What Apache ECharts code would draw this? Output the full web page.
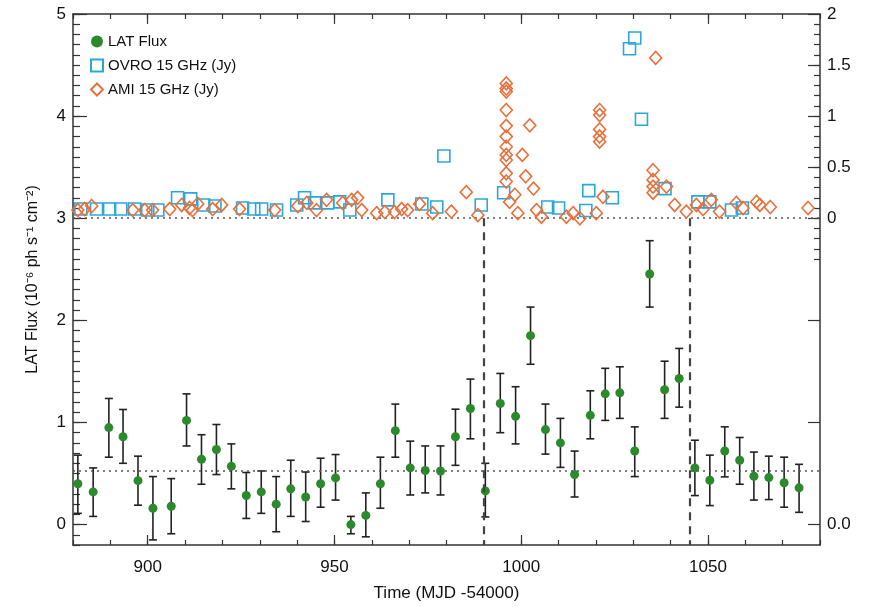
<!DOCTYPE html>
<html>
<head>
<meta charset="utf-8">
<script src="https://cdn.jsdelivr.net/npm/echarts@6/dist/echarts.min.js"></script>
<style>
  html, body { margin: 0; background: #fff; }
  #chart { width: 875px; height: 607px; }
</style>
</head>
<body>
<div id="chart"></div>
<script>
// LAT flux, 10^-6 ph s^-1 cm^-2, with error bar ends
const latTime = [881.3, 885.4, 889.6, 893.4, 897.4, 901.4, 906.3, 910.4, 914.4, 918.4,
  922.4, 926.4, 930.4, 934.4, 938.3, 942.3, 946.3, 950.3, 954.4, 958.4,
  962.3, 966.3, 970.3, 974.3, 978.4, 982.4, 986.4, 990.4, 994.4, 998.5,
  1002.5, 1006.5, 1010.5, 1014.3, 1018.5, 1022.5, 1026.4, 1030.4, 1034.4, 1038.4,
  1042.3, 1046.5, 1050.5, 1054.5, 1058.5, 1062.3, 1066.3, 1070.4, 1074.4]
const latFlux = [0.40, 0.32, 0.95, 0.86, 0.43, 0.16, 0.18, 1.02, 0.64, 0.735,
  0.57, 0.285, 0.32, 0.20, 0.35, 0.27, 0.40, 0.457, 0.0, 0.09,
  0.40, 0.92, 0.555, 0.53, 0.525, 0.86, 1.137, 0.33, 1.186, 1.06,
  1.85, 0.93, 0.80, 0.49, 1.07, 1.28, 1.29, 0.72, 2.454, 1.32,
  1.43, 0.555, 0.434, 0.72, 0.63, 0.473, 0.46, 0.41, 0.36]
const latLow = [0.11, 0.08, 0.66, 0.60, 0.19, -0.15, -0.09, 0.77, 0.395, 0.49,
  0.35, 0.06, 0.11, -0.07, 0.08, 0.03, 0.17, 0.24, -0.09, -0.12,
  0.16, 0.66, 0.29, 0.31, 0.29, 0.58, 0.84, 0.075, 0.90, 0.79,
  1.57, 0.69, 0.56, 0.27, 0.84, 1.02, 1.04, 0.47, 2.13, 1.04,
  1.15, 0.284, 0.186, 0.467, 0.395, 0.24, 0.245, 0.17, 0.12]
const latHigh = [0.68, 0.555, 1.235, 1.127, 0.67, 0.47, 0.45, 1.28, 0.88, 0.98,
  0.79, 0.51, 0.525, 0.47, 0.63, 0.515, 0.65, 0.686, 0.08, 0.31,
  0.66, 1.18, 0.817, 0.77, 0.77, 1.13, 1.425, 0.6, 1.48, 1.35,
  2.13, 1.18, 1.04, 0.72, 1.31, 1.53, 1.545, 0.957, 2.78, 1.60,
  1.725, 0.826, 0.68, 0.957, 0.853, 0.71, 0.67, 0.66, 0.59]

// OVRO 15 GHz, Jy
const ovroTime = [882.1, 886.3, 889.8, 892.8, 896.5, 900.0, 902.7, 908.0, 911.5, 915.0,
  918.0, 925.4, 928.4, 930.5, 934.5, 939.9, 942.0, 944.7, 948.2, 951.4,
  954.1, 964.3, 973.4, 977.4, 979.3, 989.3, 995.3, 1007.1, 1010.0, 1017.3,
  1018.1, 1024.4, 1029.0, 1030.4, 1032.2, 1038.5, 1047.3, 1050.5, 1056.3, 1059.2]
const ovroFlux = [0.09, 0.09, 0.09, 0.09, 0.09, 0.08, 0.08, 0.20, 0.19, 0.13,
  0.12, 0.10, 0.09, 0.09, 0.08, 0.13, 0.20, 0.15, 0.15, 0.16,
  0.08, 0.18, 0.14, 0.11, 0.61, 0.13, 0.25, 0.11, 0.10, 0.075,
  0.27, 0.20, 1.66, 1.765, 0.97, 0.29, 0.16, 0.16, 0.08, 0.10]

// AMI 15 GHz, Jy
const amiTime = [881.3, 883.1, 885.0, 896.0, 899.2, 901.3, 905.9, 909.1, 911.2, 912.0,
  913.4, 917.4, 919.8, 924.6, 934.0, 940.2, 942.6, 945.2, 947.9, 952.2,
  954.6, 956.2, 957.3, 961.3, 963.5, 966.1, 968.0, 969.6, 972.8, 976.3,
  981.3, 985.3, 988.4, 996.0, 996.0, 996.0, 996.0, 996.0, 996.0, 996.0,
  996.0, 996.0, 996.0, 996.0, 996.9, 998.3, 999.1, 1000.3, 1001.2, 1002.3,
  1003.3, 1004.1, 1005.4, 1012.1, 1013.9, 1015.7, 1020.1, 1021.0, 1021.0, 1021.0,
  1021.0, 1021.0, 1021.9, 1035.3, 1035.3, 1035.3, 1035.3, 1036.0, 1038.9, 1041.1,
  1044.2, 1046.9, 1048.7, 1050.9, 1053.1, 1057.6, 1059.4, 1063.0, 1063.9, 1066.7,
  1076.8]
const amiFlux = [0.08, 0.09, 0.12, 0.08, 0.08, 0.08, 0.09, 0.13, 0.10, 0.08,
  0.14, 0.09, 0.13, 0.09, 0.08, 0.12, 0.15, 0.08, 0.18, 0.15,
  0.18, 0.20, 0.08, 0.05, 0.06, 0.06, 0.09, 0.08, 0.14, 0.05,
  0.065, 0.255, 0.03, 1.32, 1.27, 1.24, 1.06, 0.905, 0.80, 0.70,
  0.62, 0.57, 0.44, 0.36, 0.16, 0.23, 0.05, 0.62, 0.41, 0.91,
  0.29, 0.08, 0.015, 0.015, 0.05, 0.0, 0.05, 1.06, 1.01, 0.87,
  0.80, 0.75, 0.21, 0.47, 0.375, 0.31, 0.25, 1.57, 0.31, 0.13,
  0.065, 0.13, 0.09, 0.18, 0.065, 0.15, 0.10, 0.16, 0.13, 0.11,
  0.10]

// axis ticks and labels
const xMajor = [900, 950, 1000, 1050]
const leftMajor = [0, 1, 2, 3, 4, 5]
const rightMajor = [-3, -2, -1, 0, 0.5, 1, 1.5, 2]
const rightLabels = [-3, 0, 0.5, 1, 1.5, 2]
const flareStart = 990
const flareEnd = 1045
const latMean = 0.525

function steps(from, to, step) {
  const out = []
  for (let v = from; v <= to + 1e-9; v += step) out.push(Math.round(v * 10) / 10)
  return out
}

const font = 'Liberation Sans'
const axisColor = '#333'
const green = '#2b8a2b'
const blue = '#2aa8dc'
const orange = '#e8703c'

const chartDom = document.getElementById('chart')
const myChart = echarts.init(chartDom)

const baseX = { type: 'value', min: 880, max: 1080, gridIndex: 0, splitLine: { show: false } }
const baseLeft = { type: 'value', min: -0.2, max: 5, splitLine: { show: false } }
const baseRight = { type: 'value', min: -3.2, max: 2, splitLine: { show: false } }

const option = {
  animation: false,
  grid: { left: 73, right: 55, top: 14, bottom: 62 },
  legend: {
    orient: 'vertical',
    left: 85,
    top: 29,
    itemGap: 9,
    itemWidth: 12,
    itemHeight: 12,
    textStyle: { fontFamily: font, fontSize: 15, color: '#111' },
    data: [
      { name: 'LAT Flux', icon: 'circle' },
      { name: 'OVRO 15 GHz (Jy)', icon: 'rect' },
      { name: 'AMI 15 GHz (Jy)', icon: 'diamond' }
    ]
  },
  xAxis: [
    {
      ...baseX,
      position: 'bottom',
      name: 'Time (MJD -54000)',
      nameLocation: 'middle',
      nameGap: 40,
      nameTextStyle: { fontFamily: font, fontSize: 17, color: '#111' },
      axisLine: { onZero: false, lineStyle: { color: axisColor, width: 1.5 } },
      axisTick: { inside: true, length: 10, customValues: xMajor, lineStyle: { color: axisColor, width: 1.2 } },
      axisLabel: { customValues: xMajor, margin: 14, fontFamily: font, fontSize: 17, color: '#111', formatter: v => String(v) }
    },
    {
      ...baseX,
      position: 'bottom',
      interval: 10,
      axisLine: { show: false, onZero: false },
      axisTick: { inside: true, length: 5, lineStyle: { color: axisColor, width: 1.2 } },
      axisLabel: { show: false }
    },
    {
      ...baseX,
      position: 'top',
      axisLine: { onZero: false, lineStyle: { color: axisColor, width: 1.5 } },
      axisTick: { inside: true, length: 10, customValues: xMajor, lineStyle: { color: axisColor, width: 1.2 } },
      axisLabel: { show: false }
    },
    {
      ...baseX,
      position: 'top',
      interval: 10,
      axisLine: { show: false, onZero: false },
      axisTick: { inside: true, length: 5, lineStyle: { color: axisColor, width: 1.2 } },
      axisLabel: { show: false }
    }
  ],
  yAxis: [
    {
      ...baseLeft,
      position: 'left',
      name: 'LAT Flux (10⁻⁶ ph s⁻¹ cm⁻²)',
      nameLocation: 'middle',
      nameGap: 32,
      nameTextStyle: { fontFamily: font, fontSize: 16, color: '#111' },
      axisLine: { onZero: false, lineStyle: { color: axisColor, width: 1.5 } },
      axisTick: { inside: true, length: 14, customValues: leftMajor, lineStyle: { color: axisColor, width: 1.2 } },
      axisLabel: { customValues: leftMajor, margin: 7, fontFamily: font, fontSize: 17, color: '#111' }
    },
    {
      ...baseLeft,
      position: 'left',
      interval: 0.1,
      axisLine: { show: false, onZero: false },
      axisTick: { inside: true, length: 7, lineStyle: { color: axisColor, width: 1.2 } },
      axisLabel: { show: false }
    },
    {
      ...baseRight,
      position: 'right',
      axisLine: { onZero: false, lineStyle: { color: axisColor, width: 1.5 } },
      axisTick: { inside: true, length: 12, customValues: rightMajor, lineStyle: { color: axisColor, width: 1.2 } },
      axisLabel: {
        customValues: rightLabels,
        margin: 7,
        fontFamily: font,
        fontSize: 17,
        color: '#111',
        formatter: v => (v === -3 ? '0.0' : String(v))
      }
    },
    {
      ...baseRight,
      position: 'right',
      axisLine: { show: false, onZero: false },
      axisTick: { inside: true, length: 6, customValues: steps(-0.4, 1.9, 0.1), lineStyle: { color: axisColor, width: 1.2 } },
      axisLabel: { show: false }
    }
  ],
  series: [
    {
      name: 'LAT error',
      type: 'custom',
      xAxisIndex: 0,
      yAxisIndex: 0,
      silent: true,
      z: 3,
      data: latTime.map((t, i) => [t, latLow[i], latHigh[i]]),
      encode: { x: 0, y: [1, 2] },
      renderItem(params, api) {
        const x = api.value(0)
        const lo = api.coord([x, api.value(1)])
        const hi = api.coord([x, api.value(2)])
        const w = 4
        const style = { stroke: '#222', lineWidth: 1.6 }
        return {
          type: 'group',
          children: [
            { type: 'line', shape: { x1: lo[0], y1: lo[1], x2: hi[0], y2: hi[1] }, style },
            { type: 'line', shape: { x1: lo[0] - w, y1: lo[1], x2: lo[0] + w, y2: lo[1] }, style },
            { type: 'line', shape: { x1: hi[0] - w, y1: hi[1], x2: hi[0] + w, y2: hi[1] }, style }
          ]
        }
      }
    },
    {
      name: 'LAT Flux',
      type: 'scatter',
      xAxisIndex: 0,
      yAxisIndex: 0,
      symbol: 'circle',
      symbolSize: 9,
      z: 4,
      itemStyle: { color: green, opacity: 1 },
      data: latTime.map((t, i) => [t, latFlux[i]]),
      markLine: {
        silent: true,
        symbol: 'none',
        label: { show: false },
        data: [
          { yAxis: 3, lineStyle: { type: [2, 4], color: '#555', width: 1.5 } },
          { yAxis: latMean, lineStyle: { type: [2, 4], color: '#555', width: 1.5 } },
          [{ coord: [flareStart, 3] }, { coord: [flareStart, -0.2] }],
          [{ coord: [flareEnd, 3] }, { coord: [flareEnd, -0.2] }]
        ],
        lineStyle: { type: [8, 6], color: '#444', width: 2.2 }
      }
    },
    {
      name: 'OVRO 15 GHz (Jy)',
      type: 'scatter',
      xAxisIndex: 0,
      yAxisIndex: 2,
      symbol: 'rect',
      symbolSize: 12,
      z: 5,
      itemStyle: { color: 'rgba(255,255,255,0)', borderColor: blue, borderWidth: 1.6, opacity: 1 },
      data: ovroTime.map((t, i) => [t, ovroFlux[i]])
    },
    {
      name: 'AMI 15 GHz (Jy)',
      type: 'scatter',
      xAxisIndex: 0,
      yAxisIndex: 2,
      symbol: 'diamond',
      symbolSize: [12, 13],
      z: 6,
      itemStyle: { color: 'rgba(255,255,255,0)', borderColor: orange, borderWidth: 1.6, opacity: 1 },
      data: amiTime.map((t, i) => [t, amiFlux[i]])
    }
  ]
}
myChart.setOption(option)

window.addEventListener('resize', () => {
  myChart.resize()
})
</script>
</body>
</html>
